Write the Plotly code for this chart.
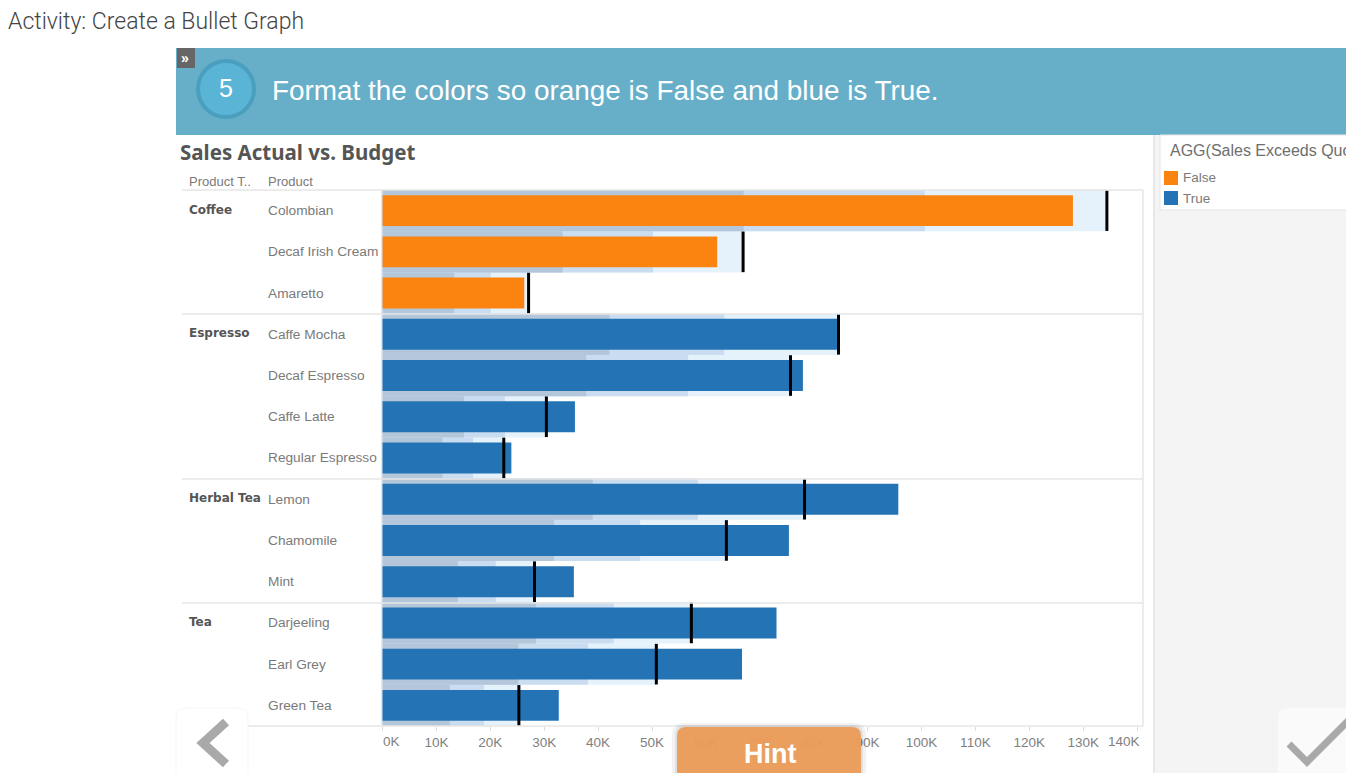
"""Bullet graph activity screen: sales actual vs. budget."""
import plotly.graph_objects as go

W, H = 1346, 773

products = ["Colombian", "Decaf Irish Cream", "Amaretto", "Caffe Mocha", "Decaf Espresso",
            "Caffe Latte", "Regular Espresso", "Lemon", "Chamomile", "Mint",
            "Darjeeling", "Earl Grey", "Green Tea"]
product_types = ["Coffee", "Espresso", "Herbal Tea", "Tea"]
type_first_product = ["Colombian", "Caffe Mocha", "Lemon", "Darjeeling"]

actual = [128.1, 62.1, 26.3, 84.4, 78.0, 35.7, 23.9, 95.7, 75.4, 35.5, 73.1, 66.7, 32.7]
budget = [134.4, 66.9, 27.1, 84.6, 75.7, 30.4, 22.5, 78.3, 63.8, 28.2, 57.3, 50.8, 25.3]
band_50 = [67.0, 33.4, 13.3, 42.1, 37.8, 15.1, 11.1, 39.0, 31.8, 14.0, 28.5, 25.2, 12.5]
band_75 = [100.6, 50.2, 20.1, 63.4, 56.7, 22.7, 16.8, 58.5, 47.8, 21.0, 42.9, 38.1, 18.8]
exceeds = [False, False, False, True, True, True, True, True, True, True, True, True, True]

tick_vals = [0, 10, 20, 30, 40, 50, 60, 70, 80, 90, 100, 110, 120, 130, 140]
tick_text = ["0K", "10K", "20K", "30K", "40K", "50K", "60K", "70K", "80K", "90K",
             "100K", "110K", "120K", "130K", "140K"]

ORANGE = "#fb8410"
BLUE = "#2474b5"
GREY_TEXT = "#7a7a7a"
SANS = "Liberation Sans"


def px(x):
    return x / W


def py(y):
    return 1 - y / H


def rect(x0, y0, x1, y1, fill, line=None, opacity=1.0):
    return dict(type="rect", xref="paper", yref="paper", x0=px(x0), x1=px(x1), y0=py(y0), y1=py(y1),
                fillcolor=fill, opacity=opacity, layer="above",
                line=dict(color=line or fill, width=1 if line else 0))


def hline(x0, x1, y):
    return dict(type="line", xref="paper", yref="paper", x0=px(x0), x1=px(x1), y0=py(y), y1=py(y),
                line=dict(color="#e6e6e6", width=1.5), layer="above")


def path(points, color, width):
    d = "M" + " L".join(f"{px(x):.5f},{py(y):.5f}" for x, y in points)
    return dict(type="path", xref="paper", yref="paper", path=d, layer="above",
                line=dict(color=color, width=width))


def rounded(x0, y0, x1, y1, r, fill, line=None, opacity=1.0):
    # rounded top corners only, the bottom runs off the page
    rx, ry = r / W, r / H
    a, b, c, d = px(x0), px(x1), py(y0), py(y1)
    p = (f"M{a},{d} L{a},{c - ry} Q{a},{c} {a + rx},{c} L{b - rx},{c} "
         f"Q{b},{c} {b},{c - ry} L{b},{d} Z")
    return dict(type="path", xref="paper", yref="paper", path=p, fillcolor=fill, layer="above",
                opacity=opacity, line=dict(color=line or fill, width=1 if line else 0))


def label(x, y, text, size=12.5, color=GREY_TEXT, family=SANS, weight=None, anchor="left"):
    # annotations carry about 2px of padding, take it back on left-anchored text
    return dict(xref="paper", yref="paper", x=px(x), y=py(y), text=text, showarrow=False,
                xanchor=anchor, yanchor="middle", align="left", xshift=-2 if anchor == "left" else 0,
                font=dict(size=size, color=color, family=family, weight=weight))


fig = go.Figure()
for values, color in [(budget, "#e5f2fc"), (band_75, "#c9dcf0"), (band_50, "#b3c6da")]:
    fig.add_trace(go.Bar(y=products, x=values, orientation="h", width=1,
                         marker=dict(color=color, line_width=0), hoverinfo="skip"))
fig.add_trace(go.Bar(y=products, x=actual, orientation="h", width=0.75,
                     marker=dict(color=[BLUE if e else ORANGE for e in exceeds], line_width=0),
                     name="Sales"))
fig.add_trace(go.Scatter(y=products, x=budget, mode="markers", name="Budget",
                         marker=dict(symbol="line-ns", size=29, color="black",
                                     line=dict(color="black", width=3))))

shapes = [
    # banner
    rect(176, 48, W, 135, "#67aec8"),
    rect(177, 48, 195, 68, "#666666"),
    dict(type="circle", xref="paper", yref="paper", x0=px(198), x1=px(254), y0=py(117), y1=py(61),
         fillcolor="#5ab4d6", line=dict(color="#4a9fbf", width=4), layer="above"),
    # side panel
    rect(1153, 135, 1155, H, "#e8e8e8"),
    rect(1155, 135, W, H, "#f4f4f4"),
    rect(1160, 135, W + 2, 210, "#ffffff", line="#e6e6e6"),
    rect(1164, 171, 1178, 185, ORANGE),
    rect(1164, 191, 1178, 205, BLUE),
    # frame of the view
    dict(type="line", xref="paper", yref="paper", x0=px(1143), x1=px(1143), y0=py(190), y1=py(726),
         line=dict(color="#e6e6e6", width=1.5), layer="above"),
    hline(182, 1143, 190),
    hline(182, 1143, 314), hline(182, 1143, 479), hline(182, 1143, 603), hline(182, 1143, 726),
    # nav buttons
    rounded(176, 708, 248, H + 4, 10, "#ffffff", line="#f6f6f6"),
    path([(226, 722), (203, 743), (226, 764)], "#a9a9a9", 9),
    rounded(1278, 708, W + 12, H + 4, 10, "#fafafa"),
    path([(1289, 744), (1307, 762), (1350, 719)], "#a9a9a9", 7),
    # hint button with its soft shadow
    rounded(672, 723, 866, H + 4, 12, "#000000", opacity=0.05),
    rounded(675, 725, 863, H + 4, 10, "#000000", opacity=0.07),
    rounded(677, 727, 861, H + 4, 9, "#eb9c59", opacity=0.96),
]

annotations = [
    label(8, 21, "Activity: Create a Bullet Graph", size=23, color="#444444", family="Roboto", weight=300),
    label(185, 58, "»", size=14, color="white", weight="bold", anchor="center"),
    label(226, 88, "5", size=25, color="white", anchor="center"),
    label(272, 90, "Format the colors so orange is False and blue is True.", size=27.9, color="white"),
    label(180, 152, "Sales Actual vs. Budget", size=20.5, color="#555555", family="Noto Sans", weight="bold"),
    label(189, 181, "Product T..", size=13),
    label(268, 181, "Product", size=13),
    label(1170, 150, "AGG(Sales Exceeds Quota)", size=16, color="#6e6e6e"),
    label(1183, 178, "False", size=13.5),
    label(1183, 198, "True", size=13.5),
    label(770, 754, "Hint", size=27, color="white", weight="bold", anchor="center"),
    # Tableau pulls the two end labels inside the axis
    label(383, 741, tick_text[0], size=13.5, color="#808080"),
    label(1124, 741, tick_text[-1], size=13.5, color="#808080", anchor="center"),
]
for name in products:
    a = label(268, 0, name, size=13.7)
    a.update(yref="y", y=name)
    annotations.append(a)
for name, first in zip(product_types, type_first_product):
    a = label(189, 0, name, size=12, color="#555555", weight="bold", family="DejaVu Sans")
    a.update(yref="y", y=first, yshift=1)
    annotations.append(a)

fig.update_layout(
    width=W, height=H, margin=dict(l=0, r=0, t=0, b=0), autosize=False,
    paper_bgcolor="white", plot_bgcolor="white", barmode="overlay", showlegend=False,
    xaxis=dict(domain=[px(382), px(1143)], range=[-0.1, 141.1], tickmode="array", tickvals=tick_vals,
               ticktext=[""] + tick_text[1:-1] + [""], ticks="outside", ticklen=4, tickcolor="#dddddd",
               tickfont=dict(size=13.5, color="#808080", family=SANS), showgrid=False, zeroline=False),
    yaxis=dict(domain=[py(726), py(190)], categoryorder="array", categoryarray=products,
               range=[12.5, -0.5], showticklabels=False, ticks="", showgrid=False, zeroline=False,
               showline=True, linecolor="#e6e6e6"),
    shapes=shapes, annotations=annotations,
)

pin_page = """
document.body.style.margin = '0';
document.documentElement.style.overflow = 'hidden';
var gd = document.getElementById('{plot_id}');
gd.style.position = 'fixed';
gd.style.left = '0';
gd.style.top = '0';
Plotly.relayout(gd, {width: 1346, height: 773});
"""
fig.write_html("out.html", config=dict(displayModeBar=False), post_script=pin_page)
